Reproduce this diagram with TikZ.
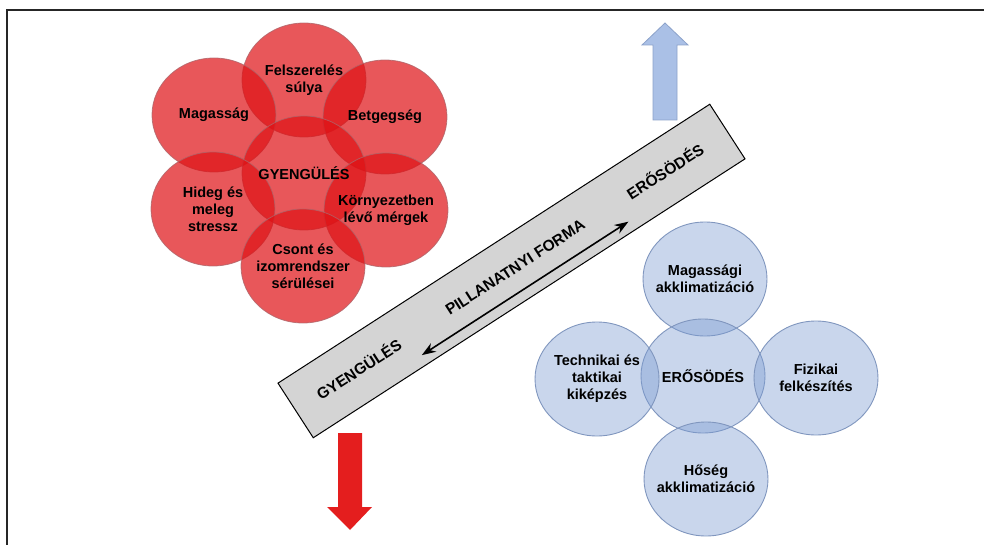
\documentclass[tikz,border=0pt]{standalone}
\usepackage{fontspec}
\setmainfont{Liberation Sans}
\usetikzlibrary{shapes.geometric,arrows.meta}
\definecolor{redfill}{RGB}{222,16,20}
\definecolor{redline}{RGB}{175,100,105}
\definecolor{bluefill}{RGB}{123,155,209}
\definecolor{blueline}{RGB}{128,150,190}
\definecolor{bargray}{RGB}{212,212,212}
\definecolor{arrowred}{RGB}{228,30,30}
\definecolor{arrowblue}{RGB}{170,192,230}
\definecolor{arrowblueline}{RGB}{140,162,202}
\begin{document}
\begin{tikzpicture}[x=1pt,y=-1pt,
  redc/.style={ellipse, minimum width=124pt, minimum height=114pt, inner sep=0pt,
    fill=redfill, fill opacity=0.7, draw=redline, draw opacity=0.8, line width=0.8pt},
  bluec/.style={ellipse, minimum width=124pt, minimum height=114pt, inner sep=0pt,
    fill=bluefill, fill opacity=0.41, draw=blueline, line width=0.9pt},
  ctext/.style={align=center, inner sep=0pt, font=\fontsize{14.5}{17}\selectfont\bfseries},
  bartext/.style={inner sep=0pt, font=\fontsize{15.5}{18}\selectfont\bfseries},
  barbox/.style={rectangle, draw=black, line width=1pt, fill=bargray, minimum width=514pt, minimum height=65pt, inner sep=0pt},
  dblarrow/.style={line width=1.6pt, {Stealth[length=14pt,width=10pt]}-{Stealth[length=14pt,width=10pt]}},
  bigred/.style={fill=arrowred, draw=none},
  bigblue/.style={fill=arrowblue, draw=arrowblueline, line width=0.8pt}
]
\useasboundingbox (0,0) rectangle (984,545);
% frame
\coordinate (fTR) at (990,10);
\coordinate (fTL) at (7,10);
\coordinate (fBL) at (7,550);
\draw[line width=1.5pt, black!85] (fTR) -- (fTL) -- (fBL);

% red circles
\node[redc] (rT) at (304,80) {};
\node[redc] (rUL) at (214,115) {};
\node[redc] (rUR) at (385,117) {};
\node[redc] (rC) at (304,173) {};
\node[redc] (rLL) at (213,209) {};
\node[redc] (rLR) at (386,210) {};
\node[redc] (rB) at (303,266) {};
\node[ctext] (tT) at (rT) {Felszerelés\\súlya};
\node[ctext] (tUL) at (rUL) {Magasság};
\node[ctext] (tUR) at (rUR) {Betgegség};
\node[ctext] (tC) at (rC) {GYENGÜLÉS};
\node[ctext] (tLL) at (rLL) {Hideg és\\meleg\\stressz};
\node[ctext] (tLR) at (rLR) {Környezetben\\lévő mérgek};
\node[ctext] (tB) at (rB) {Csont és\\izomrendszer\\sérülései};

% blue circles
\node[bluec] (bT) at (705,279) {};
\node[bluec] (bC) at (703,376) {};
\node[bluec] (bL) at (597,379) {};
\node[bluec] (bR) at (816,378) {};
\node[bluec] (bB) at (706,479) {};
\node[ctext] (uT) at (bT) {Magassági\\akklimatizáció};
\node[ctext] (uC) at (bC) {ERŐSÖDÉS};
\node[ctext] (uL) at (bL) {Technikai és\\taktikai\\kiképzés};
\node[ctext] (uR) at (bR) {Fizikai\\felkészítés};
\node[ctext] (uB) at (bB) {Hőség\\akklimatizáció};

% big arrows
\draw[bigblue] (665,23) -- (688,45) -- (677,45) -- (677,120) -- (653,120) -- (653,45) -- (642,45) -- cycle;
\fill[bigred] (338,433) -- (362,433) -- (362,507) -- (372,507) -- (350,530) -- (327,507) -- (338,507) -- cycle;

% bar
\begin{scope}[shift={(511.5,271)}, rotate=32.86]
  \node[barbox, transform shape] (bar) at (0,0) {};
  \node[bartext, transform shape] (bGy) at (-181.6,-1) {GYENGÜLÉS};
  \node[bartext, transform shape] (bPf) at (5,-1) {PILLANATNYI FORMA};
  \node[bartext, transform shape] (bEr) at (183,-1) {ERŐSÖDÉS};
  \coordinate (aL) at (-121,22);
  \coordinate (aR) at (125,22);
\end{scope}
\draw[dblarrow] (aL) -- (aR);
\end{tikzpicture}
\end{document}
